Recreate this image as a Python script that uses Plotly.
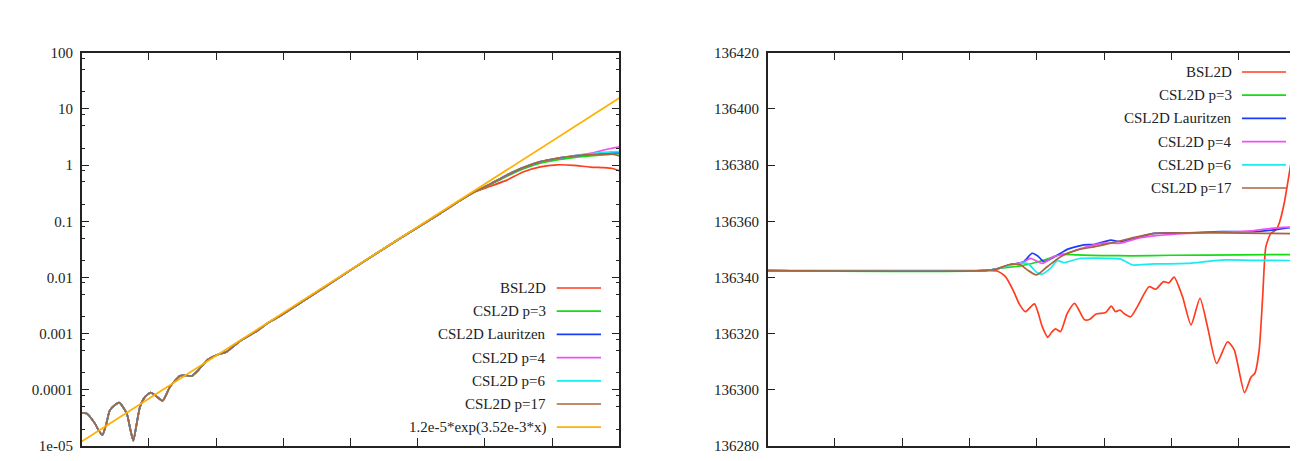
import plotly.graph_objects as go

# ---------------- data: left panel (log scale) ----------------
names = ["BSL2D", "CSL2D p=3", "CSL2D Lauritzen", "CSL2D p=4", "CSL2D p=6", "CSL2D p=17"]
fit_name = "1.2e-5*exp(3.52e-3*x)"
colors = ["#ff3c1e", "#14dc14", "#1a3cff", "#f050f0", "#18ecf0", "#a8643c"]
fit_color = "#ffb000"

# part shared by all six runs (curves overlap until x ~ 2900)
x_common_l = [0, 37, 99, 124, 154, 181, 211, 278, 335, 360, 384, 409, 434, 471, 513, 560, 603,
              657, 732, 780, 819, 868, 943, 1005, 1079, 1178, 1303, 1389, 1476, 1625,
              2000, 2370, 2667, 2800, 2915]
y_common_l = [3.9e-5, 3.8e-5, 2.5e-5, 1.93e-5, 1.57e-5, 2.37e-5, 4.4e-5, 5.9e-5, 3.8e-5, 2.07e-5,
              1.24e-5, 2.5e-5, 5.0e-5, 7.5e-5, 8.9e-5, 7.5e-5, 6.4e-5,
              1.13e-4, 1.78e-4, 1.8e-4, 1.76e-4, 2.25e-4, 3.5e-4, 4.17e-4, 4.77e-4, 7.4e-4, 1.11e-3,
              1.57e-3, 2.06e-3, 3.5e-3, 0.0135, 0.05, 0.137, 0.222, 0.325]

x_tail_l = [3040, 3164, 3288, 3412, 3536, 3660, 3784, 3883, 3950, 4000]
bsl_tail_l = [0.42, 0.54, 0.76, 0.93, 1.01, 0.99, 0.92, 0.90, 0.87, 0.79]
p3_tail_l = [0.45, 0.63, 0.86, 1.08, 1.24, 1.36, 1.45, 1.51, 1.56, 1.60]
laur_tail_l = [0.46, 0.66, 0.90, 1.14, 1.31, 1.44, 1.55, 1.64, 1.67, 1.68]
p4_tail_l = [0.46, 0.665, 0.91, 1.15, 1.32, 1.46, 1.62, 1.85, 2.0, 2.12]
p6_tail_l = [0.46, 0.665, 0.91, 1.15, 1.32, 1.46, 1.58, 1.68, 1.72, 1.73]
p17_tail_l = [0.46, 0.665, 0.91, 1.15, 1.32, 1.45, 1.53, 1.57, 1.56, 1.45]
tails_l = [bsl_tail_l, p3_tail_l, laur_tail_l, p4_tail_l, p6_tail_l, p17_tail_l]

x_fit = [0, 4000]
y_fit = [1.2e-5, 15.6]

# ---------------- data: right panel (linear scale) ----------------
bsl_x_r = [0, 1600, 1705, 1767, 1829, 1870, 1915, 1982, 2040, 2081, 2110, 2139, 2176, 2226, 2280,
           2355, 2394, 2437, 2511, 2553, 2585, 2618, 2647, 2697, 2747, 2833, 2883, 2941, 2982, 3020,
           3082, 3146, 3212, 3268, 3336, 3417, 3466, 3543, 3591, 3620, 3652, 3678, 3702, 3739,
           3776, 3801, 3838, 3888, 3946, 4000]
bsl_y_r = [136342.4, 136342.4, 136342.3, 136340.3, 136334.9, 136330.5, 136327.8, 136330.6, 136322.5,
           136318.7, 136320.5, 136321.7, 136320.7, 136327.2, 136330.8, 136324.9, 136325.1, 136326.9,
           136327.5, 136329.8, 136327.8, 136328.4, 136327.2, 136326.0, 136329.6, 136336.7, 136335.8,
           136338.5, 136338.1, 136340.1, 136333.2, 136323.1, 136332.6, 136322.5, 136309.4, 136317.1,
           136314.3, 136299.0, 136304.5, 136305.9, 136314.2, 136333.2, 136351.0, 136355.7, 136356.9,
           136359.3, 136366.4, 136380.6, 136396.0, 136412.0]

p3_x_r = [0, 1600, 1729, 1878, 1990, 2077, 2176, 2300, 2500, 2700, 3000, 3500, 4000]
p3_y_r = [136342.4, 136342.4, 136343.3, 136344.1, 136345.3, 136346.5, 136348.2, 136348.0, 136347.8,
          136347.7, 136347.9, 136348.0, 136348.2]

laur_x_r = [0, 1600, 1700, 1804, 1900, 1965, 2010, 2052, 2100, 2176, 2226, 2350, 2424, 2548, 2623,
            2697, 2871, 3119, 3367, 3615, 3789, 4000]
laur_y_r = [136342.4, 136342.4, 136343.0, 136344.6, 136345.5, 136348.6, 136347.5, 136345.6, 136346.5,
            136348.6, 136350.0, 136351.6, 136351.7, 136353.3, 136352.7, 136353.6, 136355.7, 136355.9,
            136356.3, 136356.3, 136357.1, 136358.6]

p4_x_r = [0, 1600, 1700, 1804, 1900, 1953, 2040, 2126, 2226, 2350, 2499, 2623, 2747, 2871, 3119,
          3367, 3615, 3739, 4000]
p4_y_r = [136342.4, 136342.4, 136343.0, 136344.5, 136345.5, 136346.8, 136345.0, 136347.4, 136348.6,
          136350.6, 136352.2, 136352.2, 136353.9, 136354.8, 136355.7, 136356.1, 136356.7, 136357.5,
          136358.2]

p6_x_r = [0, 1600, 1700, 1804, 1928, 2003, 2040, 2102, 2152, 2201, 2275, 2325, 2450, 2548, 2623,
          2697, 2722, 2871, 3119, 3367, 3600, 4000]
p6_y_r = [136342.4, 136342.4, 136343.0, 136344.4, 136345.0, 136341.7, 136341.2, 136343.3, 136346.0,
          136345.3, 136346.2, 136346.8, 136346.9, 136346.8, 136346.5, 136344.7, 136344.4, 136344.8,
          136345.0, 136346.2, 136346.1, 136346.0]

p17_x_r = [0, 1600, 1700, 1804, 1878, 1928, 1997, 2077, 2176, 2300, 2424, 2548, 2697, 2871, 3119,
           3367, 3700, 4000]
p17_y_r = [136342.4, 136342.4, 136343.0, 136344.7, 136344.5, 136342.7, 136340.9, 136343.8, 136347.4,
           136349.8, 136350.9, 136352.2, 136353.9, 136355.7, 136355.9, 136355.9, 136355.7, 136355.5]

series_r = [(bsl_x_r, bsl_y_r), (p3_x_r, p3_y_r), (laur_x_r, laur_y_r),
            (p4_x_r, p4_y_r), (p6_x_r, p6_y_r), (p17_x_r, p17_y_r)]

# ticks
log_tickvals = [1e-5, 1e-4, 1e-3, 1e-2, 1e-1, 1, 10, 100]
log_ticktext = ["1e-05", "0.0001", "0.001", "0.01", "0.1", "1", "10", "100"]
log_minor = [m * 10.0 ** e for e in range(-5, 2) for m in (2, 5, 8)]
lin_tickvals = [136280, 136300, 136320, 136340, 136360, 136380, 136400, 136420]

# ---------------- figure ----------------
W, H = 1298, 461
OFF = 8  # page body margin: screen pixel = figure pixel + OFF
FONT = "Liberation Serif"
AX = "#222222"
LW = 1.7

fig = go.Figure()
for name, col, tail in zip(names, colors, tails_l):
    fig.add_trace(go.Scatter(x=x_common_l + x_tail_l, y=y_common_l + tail, mode="lines", name=name,
                             line=dict(color=col, width=LW, shape="spline", smoothing=0.6),
                             xaxis="x", yaxis="y", showlegend=False))
fig.add_trace(go.Scatter(x=x_fit, y=y_fit, mode="lines", name=fit_name,
                         line=dict(color=fit_color, width=LW), xaxis="x", yaxis="y", showlegend=False))
for name, col, (xs, ys) in zip(names, colors, series_r):
    fig.add_trace(go.Scatter(x=xs, y=ys, mode="lines", name=name,
                             line=dict(color=col, width=LW, shape="spline", smoothing=0.6),
                             xaxis="x2", yaxis="y2", showlegend=False))

def px_x(p):
    return (p - OFF) / W

def px_y(p):
    return 1 - (p - OFF) / H

tickfont = dict(family=FONT, size=15, color=AX)
common_axis = dict(showline=True, linecolor=AX, linewidth=1.5, ticks="inside", ticklen=8,
                   tickwidth=1.2, tickcolor=AX, showgrid=False, zeroline=False, automargin=False)

fig.update_layout(
    width=W, height=H, margin=dict(l=0, r=0, t=0, b=0),
    paper_bgcolor="white", plot_bgcolor="white", showlegend=False,
    xaxis=dict(domain=[px_x(81.7), px_x(619.3)], range=[0, 4000], dtick=500, tick0=0,
               showticklabels=False, mirror="ticks", anchor="y", **common_axis),
    yaxis=dict(domain=[px_y(446), px_y(52.7)], type="log", range=[-5, 2],
               tickmode="array", tickvals=log_tickvals, ticktext=log_ticktext,
               tickfont=tickfont, mirror="ticks", anchor="x", ticklabelstandoff=4,
               minor=dict(tickmode="array", tickvals=log_minor, ticks="inside", ticklen=4,
                          tickwidth=1, tickcolor=AX),
               **common_axis),
    xaxis2=dict(domain=[px_x(767.7), 1.0], range=[0, 4000], dtick=500, tick0=0,
                showticklabels=False, mirror="ticks", anchor="y2", **common_axis),
    yaxis2=dict(domain=[px_y(446), px_y(52.7)], range=[136280, 136420],
                tickmode="array", tickvals=lin_tickvals, tickformat="d",
                tickfont=tickfont, mirror="ticks", anchor="x2", ticklabelstandoff=4,
                **common_axis),
)

# gnuplot-style key: text right-aligned, sample line on its right
def add_key(entries, text_right, line_x0, line_x1, top_y, step):
    for i, (label, col) in enumerate(entries):
        yy = px_y(top_y + i * step)
        fig.add_annotation(x=px_x(text_right), y=yy, xref="paper", yref="paper", text=label,
                           showarrow=False, xanchor="right", yanchor="middle",
                           font=dict(family=FONT, size=15, color=AX))
        fig.add_shape(type="line", xref="paper", yref="paper", x0=px_x(line_x0), x1=px_x(line_x1),
                      y0=yy, y1=yy, line=dict(color=col, width=LW))

add_key(list(zip(names, colors)) + [(fit_name, fit_color)], 548, 556.7, 601, 288, 23.2)
add_key(list(zip(names, colors)), 1234, 1242, 1286, 72, 23.2)

fig.write_html("out.html")
